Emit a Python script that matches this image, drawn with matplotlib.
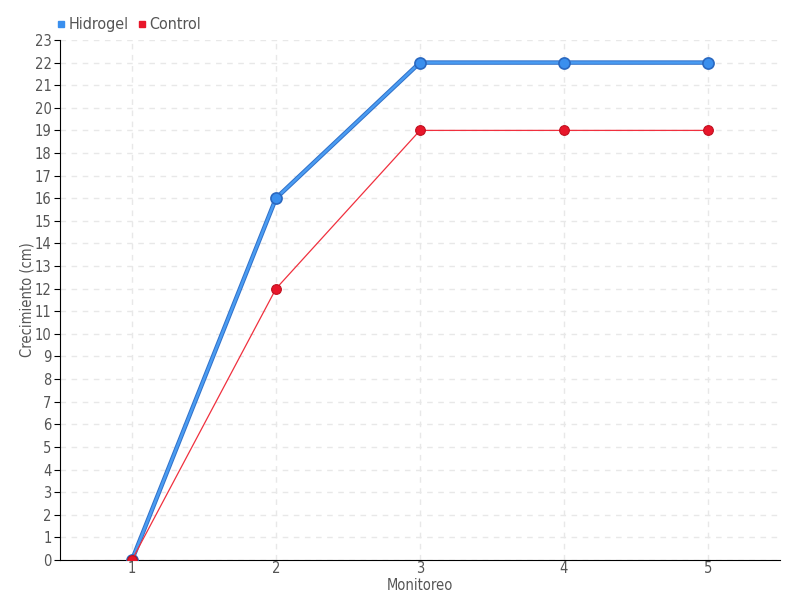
import matplotlib
matplotlib.use("Agg")
import matplotlib.pyplot as plt
from matplotlib.lines import Line2D

# Data
monitoreo = [1, 2, 3, 4, 5]
hidrogel = [0, 16, 22, 22, 22]
control = [0, 12, 19, 19, 19]

plt.rcParams['font.family'] = ['DejaVu Sans']
plt.rcParams['font.stretch'] = 'condensed'

fig = plt.figure(figsize=(8, 6), dpi=100)
ax = fig.add_axes([0.075, 0.0667, 0.9, 0.8667])

# Hidrogel: thick blue line with slightly darker outline
ax.plot(monitoreo, hidrogel, color="#3070c8", lw=3.2, zorder=3)
ax.plot(monitoreo, hidrogel, color="#4a9cf2", lw=1.8, zorder=4, marker="o", ms=8,
        mfc="#3a8fee", mec="#2a68c0", mew=1.2)
# Control: thin red line
ax.plot(monitoreo, control, color="#f0303e", lw=0.9, zorder=5, marker="o", ms=7,
        mfc="#e8162a", mec="#c0101f", mew=0.8)

ax.set_xlim(0.5, 5.5)
ax.set_ylim(0, 23)
ax.set_xticks(monitoreo)
ax.set_yticks(range(0, 24))
ax.grid(True, color="#e8e8e8", linestyle=(0, (4, 4)), lw=1)
ax.set_axisbelow(True)

for s in ("top", "right"):
    ax.spines[s].set_visible(False)
ax.spines["left"].set_color("black")
ax.spines["bottom"].set_color("black")
ax.tick_params(axis="both", direction="out", colors="#555555", labelsize=10.5)
ax.tick_params(axis="y", color="black", length=4, pad=2)
ax.tick_params(axis="x", length=0, pad=1)

ax.set_xlabel("Monitoreo", color="#555555", fontsize=10.5, labelpad=1)
ax.set_ylabel("Crecimiento (cm)", color="#555555", fontsize=10.5)
ax.yaxis.set_label_coords(-0.036, 0.5)

# Legend with square markers at top left
handles = [Line2D([], [], ls="none", marker="s", ms=5, color="#3a8fee"),
           Line2D([], [], ls="none", marker="s", ms=5, color="#e8162a")]
fig.legend(handles, ["Hidrogel", "Control"], loc="upper left", bbox_to_anchor=(0.052, 0.995),
           ncol=2, frameon=False, handlelength=0.6, handletextpad=0.2, columnspacing=0.5,
           fontsize=11.5, labelcolor="#555555")

fig.savefig("out.png", dpi=100)
